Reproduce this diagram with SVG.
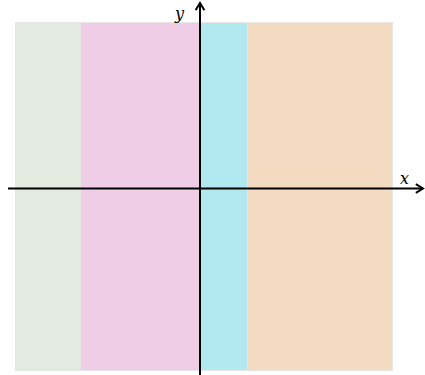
<svg xmlns="http://www.w3.org/2000/svg" width="425" height="375" viewBox="0 0 425 375">
<style>
.r{stroke:#e6e6e6;stroke-width:1}
.ax{stroke:#000;stroke-width:2;fill:none}
.lbl{font-family:"DejaVu Serif","Liberation Serif",serif;font-style:italic;font-size:16px;fill:#000}
</style>
<defs>
<marker id="arr" viewBox="0 0 10 10" refX="8.5" refY="5" markerWidth="11" markerHeight="11" orient="auto" markerUnits="userSpaceOnUse">
<path d="M2,1 L8.5,5 L2,9" fill="none" stroke="#000" stroke-width="1.8"/>
</marker>
</defs>
<g id="regions">
<rect id="r1" class="r" x="15.5" y="22.5" width="65" height="348" fill="#e3eadf"/>
<rect id="r2" class="r" x="80.5" y="22.5" width="119" height="348" fill="#f0cde6"/>
<rect id="r3" class="r" x="199.5" y="22.5" width="48" height="348" fill="#b2e9f1"/>
<rect id="r4" class="r" x="247.5" y="22.5" width="145" height="348" fill="#f2dbc0"/>
</g>
<g id="connectors">
<line class="ax" x1="8" y1="188.5" x2="423" y2="188.5" marker-end="url(#arr)"/>
<line class="ax" x1="200" y1="375" x2="200" y2="3" marker-end="url(#arr)"/>
</g>
<text class="lbl" x="175" y="19">y</text>
<text class="lbl" x="400" y="184">x</text>
</svg>
